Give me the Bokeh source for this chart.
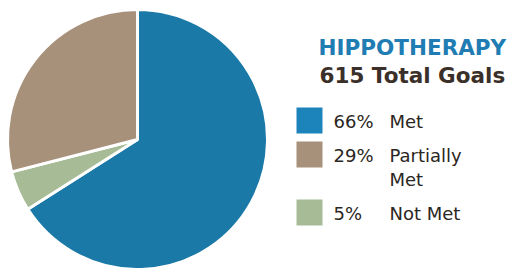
import math
import textwrap
from bokeh.plotting import figure
from bokeh.models import Range1d, ColumnDataSource
from bokeh.core.properties import value
from bokeh.embed import file_html
from bokeh.resources import INLINE

# ---- data ----
title = "HIPPOTHERAPY"
subtitle = "615 Total Goals"
categories = ["Met", "Partially Met", "Not Met"]
percents = [66, 29, 5]
colors = ["#1a79a7", "#a8917a", "#a6bb96"]
legend_colors = ["#1c83bb", "#a8917a", "#a6bb96"]
pie_order = ["Met", "Not Met", "Partially Met"]  # clockwise from 12 o'clock

W, H = 515, 268
p = figure(width=W, height=H, output_backend="svg", toolbar_location=None,
           x_range=Range1d(0, W), y_range=Range1d(0, H), min_border=0)
p.axis.visible = False
p.grid.visible = False
p.outline_line_color = None
p.background_fill_color = "white"
p.border_fill_color = "white"

# ---- pie ----
starts, ends, cols = [], [], []
cum = 0.0
for cat in pie_order:
    i = categories.index(cat)
    v = percents[i]
    a0 = math.radians(90 - (cum + v) * 3.6)
    a1 = math.radians(90 - cum * 3.6)
    starts.append(a0)
    ends.append(a1)
    cols.append(colors[i])
    cum += v
cx, cy, r = 137, 129, 130
src = ColumnDataSource(dict(x=[cx] * len(pie_order), y=[cy] * len(pie_order),
                            start=starts, end=ends, color=cols))
p.wedge(x="x", y="y", radius=r, start_angle="start", end_angle="end",
        fill_color="color", line_color="white", line_width=3, source=src)

FONT = value("DejaVu Sans")
# ---- titles ----
p.text(x=[318], y=[221], text=[title], text_font=FONT,
       text_font_style="bold", text_font_size="21.5px", text_color="#1f7db3",
       text_baseline="alphabetic")
p.text(x=[319], y=[193], text=[subtitle], text_font=FONT,
       text_font_style="bold", text_font_size="21.5px", text_color="#3b3029",
       text_baseline="alphabetic")

# ---- legend ----
sq_x, sq = 296, 26
row_y = 148
row_step = 34
line_h = 24
for i, cat in enumerate(categories):
    lines = textwrap.wrap(cat, 10)
    p.rect(x=[sq_x + sq / 2], y=[row_y], width=sq, height=sq,
           fill_color=legend_colors[i], line_color=None)
    p.text(x=[333], y=[row_y - 1], text=[f"{percents[i]}%"],
           text_font=FONT, text_font_size="18px",
           text_font_style="normal", text_color="#2b2622",
           text_baseline="alphabetic")
    for j, ln in enumerate(lines):
        p.text(x=[389], y=[row_y - 1 - j * line_h], text=[ln],
               text_font=FONT, text_font_size="18px",
               text_color="#2b2622", text_baseline="alphabetic")
    row_y -= row_step + (len(lines) - 1) * line_h

open("out.html", "w").write(file_html(p, INLINE))
